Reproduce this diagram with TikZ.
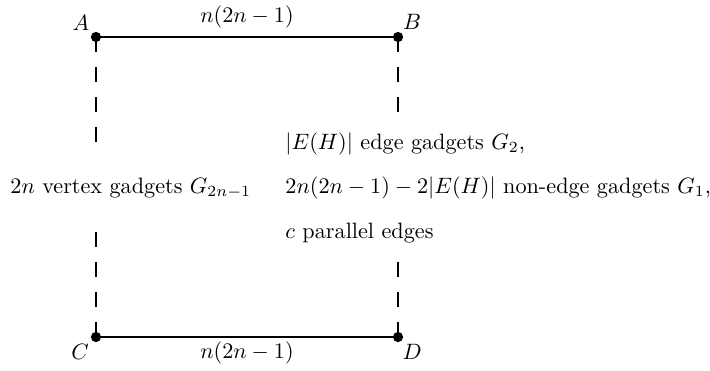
\documentclass[tikz,border=0pt]{standalone}
\begin{document}
\begin{tikzpicture}[x=0.45pt,y=-0.45pt,
  dot/.style={circle,fill=black,inner sep=0pt,minimum size=4.6pt},
  solidline/.style={line width=0.9pt},
  dashL/.style={line width=1.1pt,dash pattern=on 6.75pt off 6.75pt},
  dashR/.style={line width=0.7pt,dash pattern=on 6.75pt off 6.75pt},
  lab/.style={inner sep=0pt}]
\useasboundingbox (0,0) rectangle (710,370);
% corner vertices
\node[dot] (A) at (96,37) {};
\node[dot] (B) at (398,37) {};
\node[dot] (C) at (96,337) {};
\node[dot] (D) at (398,337) {};
% corner labels
\node[lab] (lA) at (81,23) {$A$};
\node[lab] (lB) at (412,22) {$B$};
\node[lab] (lC) at (80,352) {$C$};
\node[lab] (lD) at (412,352) {$D$};
% horizontal edges
\draw[solidline] (A.center) -- (B.center);
\draw[solidline] (C.center) -- (D.center);
\node[lab] (top) at (247,17) {$n(2n-1)$};
\node[lab] (bot) at (247,353) {$n(2n-1)$};
% dashed verticals
\coordinate (a1) at (96,142);
\coordinate (c1) at (96,232);
\coordinate (b1) at (398,112);
\coordinate (d1) at (398,262);
\draw[dashL] (A.center) -- (a1);
\draw[dashL] (C.center) -- (c1);
\draw[dashR] (B.center) -- (b1);
\draw[dashR] (D.center) -- (d1);
% left label
\node[lab,anchor=base west] (left) at (10,193) {$2n$ vertex gadgets $G_{2n-1}$};
% right labels
\node[lab,anchor=base west] (r1) at (285,149) {$|E(H)|$ edge gadgets $G_2$,};
\node[lab,anchor=base west] (r2) at (285,193) {$2n(2n-1)-2|E(H)|$ non-edge gadgets $G_1$,};
\node[lab,anchor=base west] (r3) at (285,238) {$c$ parallel edges};
\end{tikzpicture}
\end{document}
